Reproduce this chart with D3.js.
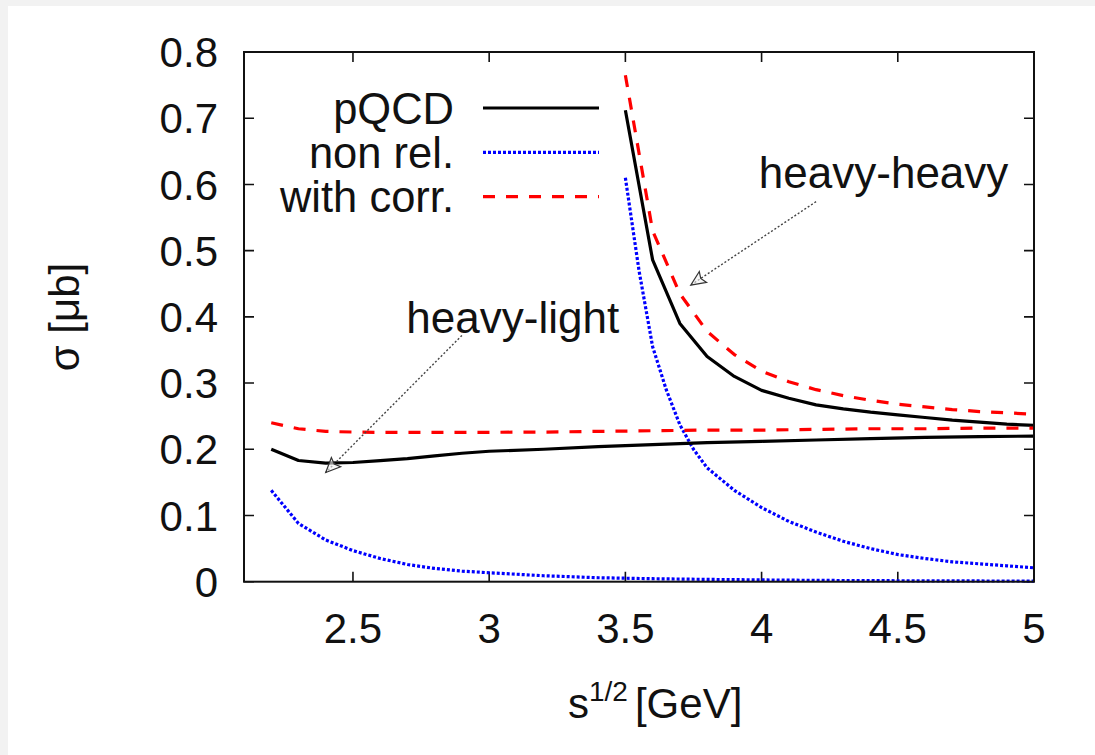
<!DOCTYPE html>
<html>
<head>
<meta charset="utf-8">
<script src="https://cdn.jsdelivr.net/npm/d3@7"></script>
<style>
  html, body { margin: 0; padding: 0; background: #f2f2f2; }
  svg { display: block; }
  text { font-family: "Liberation Sans", Arial, Helvetica, sans-serif; fill: #111; }
</style>
</head>
<body>
<svg id="chart" width="1095" height="755"></svg>
<script>
// Heavy-light threshold channel (sqrt(s) from 2.2 GeV)
const xHL       = [2.2, 2.3, 2.4, 2.5, 2.6, 2.7, 2.8, 2.9, 3.0, 3.2, 3.4, 3.6, 3.8, 4.0, 4.2, 4.4, 4.6, 4.8, 5.0];
const pqcdHL    = [0.200, 0.183, 0.179, 0.180, 0.183, 0.186, 0.190, 0.194, 0.197, 0.200, 0.204, 0.207, 0.210, 0.212, 0.214, 0.216, 0.218, 0.219, 0.220];
const corrHL    = [0.240, 0.231, 0.227, 0.226, 0.2255, 0.2255, 0.2255, 0.2255, 0.2256, 0.226, 0.227, 0.228, 0.229, 0.229, 0.230, 0.231, 0.231, 0.232, 0.232];
const nonrelHL  = [0.138, 0.088, 0.063, 0.047, 0.035, 0.026, 0.020, 0.016, 0.0135, 0.009, 0.006, 0.0045, 0.0035, 0.0027, 0.002, 0.0016, 0.0013, 0.0011, 0.001];

// Heavy-heavy threshold channel (sqrt(s) from 3.5 GeV)
const xHH       = [3.5, 3.6, 3.7, 3.8, 3.9, 4.0, 4.1, 4.2, 4.3, 4.4, 4.5, 4.6, 4.7, 4.8, 4.9, 5.0];
const pqcdHH    = [0.712, 0.486, 0.390, 0.340, 0.310, 0.289, 0.277, 0.267, 0.261, 0.256, 0.252, 0.248, 0.244, 0.241, 0.238, 0.236];
const corrHH    = [0.765, 0.530, 0.435, 0.378, 0.343, 0.318, 0.302, 0.290, 0.281, 0.274, 0.268, 0.264, 0.260, 0.257, 0.255, 0.253];
const xHHnr     = [3.5, 3.55, 3.6, 3.65, 3.7, 3.75, 3.8, 3.9, 4.0, 4.1, 4.2, 4.3, 4.4, 4.5, 4.6, 4.7, 4.8, 4.9, 5.0];
const nonrelHH  = [0.610, 0.470, 0.355, 0.290, 0.237, 0.200, 0.172, 0.138, 0.112, 0.091, 0.075, 0.061, 0.050, 0.041, 0.035, 0.030, 0.027, 0.024, 0.021];

// Axis ticks
const xTicks = [2.5, 3, 3.5, 4, 4.5, 5];
const yTicks = [0, 0.1, 0.2, 0.3, 0.4, 0.5, 0.6, 0.7, 0.8];

// Legend entries and annotations (arrow tail -> head, in data units)
const legendLabels = ["pQCD", "non rel.", "with corr."];
const noteLabels   = ["heavy-light", "heavy-heavy"];
const noteTextAt   = [[2.696, 0.376], [3.99, 0.595]];
const noteArrows   = [[[2.9, 0.372], [2.4, 0.165]], [[4.2, 0.574], [3.74, 0.448]]];

const styles = {
  pqcd:   { stroke: "#000000", dash: null },
  nonrel: { stroke: "#0000ff", dash: "3,2" },
  corr:   { stroke: "#ff0000", dash: "12,11" }
};
const legendStyles = [styles.pqcd, styles.nonrel, styles.corr];

const svg = d3.select("#chart");
svg.append("rect").attr("x", 8).attr("y", 6).attr("width", 1087).attr("height", 749).attr("fill", "#ffffff");

const x = d3.scaleLinear().domain([2.1, 5]).range([244, 1034]);
const y = d3.scaleLinear().domain([0, 0.8]).range([581.7, 52]);
const FS = 42;
const [x0, x1] = x.range();
const [y0, y1] = y.range();

// Tick marks drawn inward on all four sides, labels on left and bottom
const axes = svg.append("g");
axes.selectAll(".xt").data(xTicks).join("path")
  .attr("d", d => `M${x(d)},${y0}V${y0 - 10}M${x(d)},${y1}V${y1 + 10}`)
  .attr("stroke", "#111").attr("stroke-width", 1.6);
axes.selectAll(".yt").data(yTicks).join("path")
  .attr("d", d => `M${x0},${y(d)}H${x0 + 10}M${x1},${y(d)}H${x1 - 10}`)
  .attr("stroke", "#111").attr("stroke-width", 1.6);

axes.selectAll(".xl").data(xTicks).join("text")
  .attr("x", d => x(d)).attr("y", 643)
  .attr("text-anchor", "middle").attr("font-size", FS)
  .text(d => d3.format("")(d));
axes.selectAll(".yl").data(yTicks).join("text")
  .attr("x", 218).attr("y", d => y(d)).attr("dy", "0.36em")
  .attr("text-anchor", "end").attr("font-size", FS)
  .text(d => d === 0 ? "0" : d3.format(".1f")(d));

// Axis titles
const xt = svg.append("text").attr("x", 568).attr("y", 718).attr("font-size", FS);
xt.append("tspan").text("s");
xt.append("tspan").attr("dy", -17).attr("font-size", 28).text("1/2");
xt.append("tspan").attr("dy", 17).attr("dx", 7).text("[GeV]");

svg.append("text")
  .attr("transform", "translate(79,317) rotate(-90)")
  .attr("text-anchor", "middle").attr("font-size", FS)
  .text("σ [μb]");

// Curves
const plot = svg.append("g");
const line = d3.line().x(d => x(d[0])).y(d => y(d[1]));
function drawSeries(xs, ys, st) {
  plot.append("path")
    .datum(xs.map((v, i) => [v, ys[i]]))
    .attr("d", line)
    .attr("fill", "none")
    .attr("stroke", st.stroke)
    .attr("stroke-width", 3.2)
    .attr("stroke-dasharray", st.dash)
    .attr("stroke-linejoin", "round");
}
drawSeries(xHL, nonrelHL, styles.nonrel);
drawSeries(xHHnr, nonrelHH, styles.nonrel);
drawSeries(xHL, pqcdHL, styles.pqcd);
drawSeries(xHH, pqcdHH, styles.pqcd);
drawSeries(xHL, corrHL, styles.corr);
drawSeries(xHH, corrHH, styles.corr);

// Annotations with thin dotted arrows
const notes = svg.append("g");
noteArrows.forEach(([[ax, ay], [bx, by]]) => {
  const X1 = x(ax), Y1 = y(ay), X2 = x(bx), Y2 = y(by);
  const ang = Math.atan2(Y2 - Y1, X2 - X1);
  const L = 16, W = 0.42;
  const p1 = [X2 - L * Math.cos(ang - W), Y2 - L * Math.sin(ang - W)];
  const p2 = [X2 - L * Math.cos(ang + W), Y2 - L * Math.sin(ang + W)];
  const back = [X2 - L * 0.75 * Math.cos(ang), Y2 - L * 0.75 * Math.sin(ang)];
  notes.append("path")
    .attr("d", `M${X1},${Y1}L${X2},${Y2}`)
    .attr("stroke", "#444").attr("stroke-width", 1.4)
    .attr("stroke-dasharray", "2,2").attr("fill", "none");
  notes.append("path")
    .attr("d", `M${p1[0]},${p1[1]}L${X2},${Y2}L${p2[0]},${p2[1]}L${back[0]},${back[1]}Z`)
    .attr("stroke", "#333").attr("stroke-width", 1.2)
    .attr("fill", "#f4f4f4").attr("fill-opacity", 0.6);
});
noteLabels.forEach((t, i) => {
  notes.append("text")
    .attr("x", x(noteTextAt[i][0])).attr("y", y(noteTextAt[i][1]))
    .attr("font-size", 44).text(t);
});

// Legend
const legend = svg.append("g");
legendLabels.forEach((t, i) => {
  const ly = 108 + i * 44.3;
  legend.append("text")
    .attr("x", 454).attr("y", ly).attr("dy", "0.36em")
    .attr("text-anchor", "end").attr("font-size", 43.5).text(t);
  legend.append("path")
    .attr("d", `M483,${ly}H599`)
    .attr("stroke", legendStyles[i].stroke).attr("stroke-width", 3.2)
    .attr("stroke-dasharray", legendStyles[i].dash).attr("fill", "none");
});

// Plot frame
svg.append("rect")
  .attr("x", x0).attr("y", y1).attr("width", x1 - x0).attr("height", y0 - y1)
  .attr("fill", "none").attr("stroke", "#111").attr("stroke-width", 2);
</script>
</body>
</html>
